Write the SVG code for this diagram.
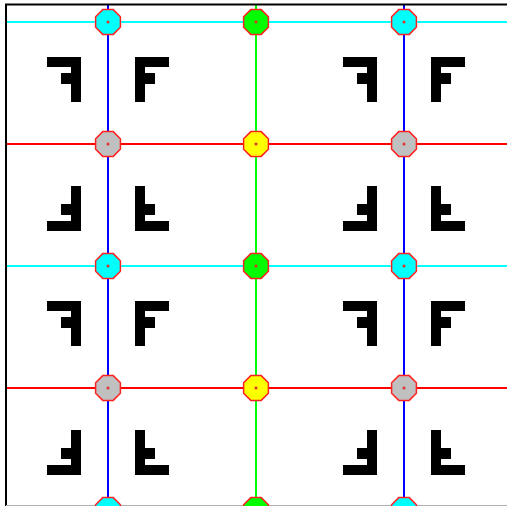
<svg xmlns="http://www.w3.org/2000/svg" xmlns:xlink="http://www.w3.org/1999/xlink" width="507" height="506" viewBox="0 0 507 506">
<style>
.cy{stroke:#00ffff;stroke-width:2}
.rd{stroke:#ff0000;stroke-width:2}
.bl{stroke:#0000ff;stroke-width:2}
.gr{stroke:#00ff00;stroke-width:2}
.oct{stroke:#ff2020;stroke-width:1.5}
.dot{fill:#e03030}
.f{fill:#000}
</style>
<defs>
<path id="F" d="M27,35 H61 V45 H37 V51 H47 V62 H37 V80 H27 Z"/>
<polygon id="oct" class="oct" points="-5.2,-12.4 5.2,-12.4 12.4,-5.2 12.4,5.2 5.2,12.4 -5.2,12.4 -12.4,5.2 -12.4,-5.2"/>
</defs>
<rect x="0" y="0" width="507" height="506" fill="#fff"/>
<g id="motifs" class="f">
<use xlink:href="#F" transform="translate(108,22)"/>
<use xlink:href="#F" transform="translate(108,22) scale(-1,1)"/>
<use xlink:href="#F" transform="translate(108,266) scale(1,-1)"/>
<use xlink:href="#F" transform="translate(108,266) scale(-1,-1)"/>
<use xlink:href="#F" transform="translate(404,22)"/>
<use xlink:href="#F" transform="translate(404,22) scale(-1,1)"/>
<use xlink:href="#F" transform="translate(404,266) scale(1,-1)"/>
<use xlink:href="#F" transform="translate(404,266) scale(-1,-1)"/>
<use xlink:href="#F" transform="translate(108,266)"/>
<use xlink:href="#F" transform="translate(108,266) scale(-1,1)"/>
<use xlink:href="#F" transform="translate(108,510) scale(1,-1)"/>
<use xlink:href="#F" transform="translate(108,510) scale(-1,-1)"/>
<use xlink:href="#F" transform="translate(404,266)"/>
<use xlink:href="#F" transform="translate(404,266) scale(-1,1)"/>
<use xlink:href="#F" transform="translate(404,510) scale(1,-1)"/>
<use xlink:href="#F" transform="translate(404,510) scale(-1,-1)"/>
</g>
<g id="connectors">
<line class="cy" x1="6" y1="22" x2="507" y2="22"/>
<line class="rd" x1="6" y1="144" x2="507" y2="144"/>
<line class="cy" x1="6" y1="266" x2="507" y2="266"/>
<line class="rd" x1="6" y1="388" x2="507" y2="388"/>
<line class="bl" x1="108" y1="4" x2="108" y2="506"/>
<line class="gr" x1="256" y1="4" x2="256" y2="506"/>
<line class="bl" x1="404" y1="4" x2="404" y2="506"/>
</g>
<g id="frame">
<line x1="5" y1="4.5" x2="507" y2="4.5" stroke="#000" stroke-width="2"/>
<line x1="6" y1="4" x2="6" y2="506" stroke="#000" stroke-width="2"/>
<line x1="6" y1="505.5" x2="507" y2="505.5" stroke="#b0b0b0" stroke-width="1"/>
</g>
<g id="n-108-22" transform="translate(108,22)"><use xlink:href="#oct" fill="#00ffff"/><circle class="dot" r="1.5"/></g>
<g id="n-108-144" transform="translate(108,144)"><use xlink:href="#oct" fill="#c0c0c0"/><circle class="dot" r="1.5"/></g>
<g id="n-108-266" transform="translate(108,266)"><use xlink:href="#oct" fill="#00ffff"/><circle class="dot" r="1.5"/></g>
<g id="n-108-388" transform="translate(108,388)"><use xlink:href="#oct" fill="#c0c0c0"/><circle class="dot" r="1.5"/></g>
<g id="n-108-510" transform="translate(108,510)"><use xlink:href="#oct" fill="#00ffff"/><circle class="dot" r="1.5"/></g>
<g id="n-256-22" transform="translate(256,22)"><use xlink:href="#oct" fill="#00ff00"/><circle class="dot" r="1.5"/></g>
<g id="n-256-144" transform="translate(256,144)"><use xlink:href="#oct" fill="#ffff00"/><circle class="dot" r="1.5"/></g>
<g id="n-256-266" transform="translate(256,266)"><use xlink:href="#oct" fill="#00ff00"/><circle class="dot" r="1.5"/></g>
<g id="n-256-388" transform="translate(256,388)"><use xlink:href="#oct" fill="#ffff00"/><circle class="dot" r="1.5"/></g>
<g id="n-256-510" transform="translate(256,510)"><use xlink:href="#oct" fill="#00ff00"/><circle class="dot" r="1.5"/></g>
<g id="n-404-22" transform="translate(404,22)"><use xlink:href="#oct" fill="#00ffff"/><circle class="dot" r="1.5"/></g>
<g id="n-404-144" transform="translate(404,144)"><use xlink:href="#oct" fill="#c0c0c0"/><circle class="dot" r="1.5"/></g>
<g id="n-404-266" transform="translate(404,266)"><use xlink:href="#oct" fill="#00ffff"/><circle class="dot" r="1.5"/></g>
<g id="n-404-388" transform="translate(404,388)"><use xlink:href="#oct" fill="#c0c0c0"/><circle class="dot" r="1.5"/></g>
<g id="n-404-510" transform="translate(404,510)"><use xlink:href="#oct" fill="#00ffff"/><circle class="dot" r="1.5"/></g>
</svg>
